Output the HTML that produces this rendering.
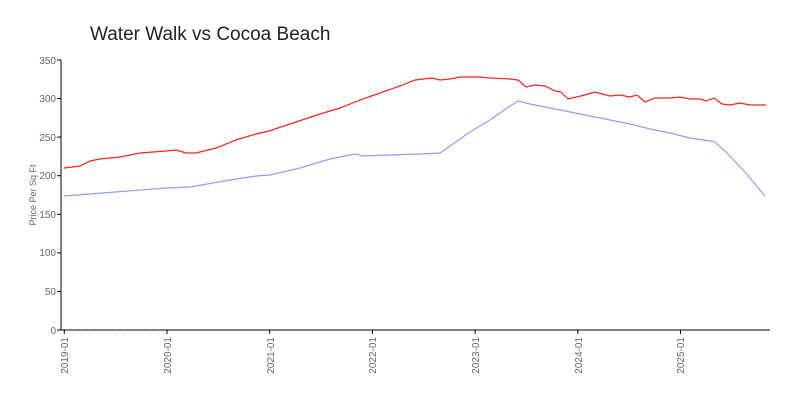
<!DOCTYPE html>
<html><head><meta charset="utf-8"><style>
body{margin:0;background:#fff}
svg{font-family:"Liberation Sans",sans-serif;display:block}
</style></head><body>
<svg width="800" height="400" viewBox="0 0 800 400">
<text x="90" y="40" font-size="19" fill="#222">Water Walk vs Cocoa Beach</text>
<text transform="translate(36,195) rotate(-90)" text-anchor="middle" font-size="9" fill="#666">Price Per Sq Ft</text>
<g stroke="#000" stroke-width="1">
<line x1="61" y1="60" x2="61" y2="330"/>
<line x1="61" y1="330" x2="770" y2="330"/>
</g>
<g font-size="10" fill="#666" text-anchor="end">
<text x="56" y="334">0</text><text x="56" y="295">50</text><text x="56" y="256">100</text>
<text x="56" y="218">150</text><text x="56" y="179">200</text><text x="56" y="141">250</text>
<text x="56" y="102">300</text><text x="56" y="64">350</text>
</g>
<g stroke="#000"><line x1="57" y1="330" x2="61" y2="330"/><line x1="57" y1="291.4" x2="61" y2="291.4"/><line x1="57" y1="252.9" x2="61" y2="252.9"/><line x1="57" y1="214.3" x2="61" y2="214.3"/><line x1="57" y1="175.7" x2="61" y2="175.7"/><line x1="57" y1="137.1" x2="61" y2="137.1"/><line x1="57" y1="98.6" x2="61" y2="98.6"/><line x1="57" y1="60" x2="61" y2="60"/></g>
<g stroke="#000">
<line x1="64.3" y1="330" x2="64.3" y2="334"/><line x1="167" y1="330" x2="167" y2="334"/><line x1="269.7" y1="330" x2="269.7" y2="334"/><line x1="372.4" y1="330" x2="372.4" y2="334"/><line x1="475.1" y1="330" x2="475.1" y2="334"/><line x1="577.8" y1="330" x2="577.8" y2="334"/><line x1="680.5" y1="330" x2="680.5" y2="334"/>
</g>
<path stroke="#bbb" stroke-width="1" d="M72.9 330v2M81.4 330v2M90 330v2M98.5 330v2M107.1 330v2M115.7 330v2M124.2 330v2M132.8 330v2M141.3 330v2M149.9 330v2M158.4 330v2"/>
<g font-size="10" fill="#666" text-anchor="end">
<text transform="translate(68,337) rotate(-90)">2019-01</text>
<text transform="translate(171,337) rotate(-90)">2020-01</text>
<text transform="translate(274,337) rotate(-90)">2021-01</text>
<text transform="translate(376,337) rotate(-90)">2022-01</text>
<text transform="translate(479,337) rotate(-90)">2023-01</text>
<text transform="translate(582,337) rotate(-90)">2024-01</text>
<text transform="translate(684,337) rotate(-90)">2025-01</text>
</g>
<polyline fill="none" stroke="#ff2020" stroke-width="1.2" points="64,168 80,166 90,161 100,159 120,157 140,153 166,151 176,150 186,153 196,153 216,148 236,140 256,134 269,131 290,124 320,114 340,108 360,100 380,93 400,86 415,80 432,78 440,80 450,79 460,77 480,77 490,78 510,79 518,80 526,87 535,85 545,86 555,91 561,92 568,99 585,95 595,92 610,96 620,95 630,97 637,95 645,102 655,98 670,98 680,97 690,99 700,99 706,101 714,98 722,104 730,105 740,103 750,105 766,105"/>
<polyline fill="none" stroke="#9999ff" stroke-width="1.2" points="64,196 166,188 190,187 230,180 256,176 270,175 300,168 330,159 355,154 362,156 390,155 420,154 440,153 450,146 470,132 490,120 507,108 518,101 530,104 550,108 570,112 590,116 610,120 630,124 650,129 670,133 690,138 710,141 715,142 725,151 745,172 765,196"/>
</svg>
</body></html>
